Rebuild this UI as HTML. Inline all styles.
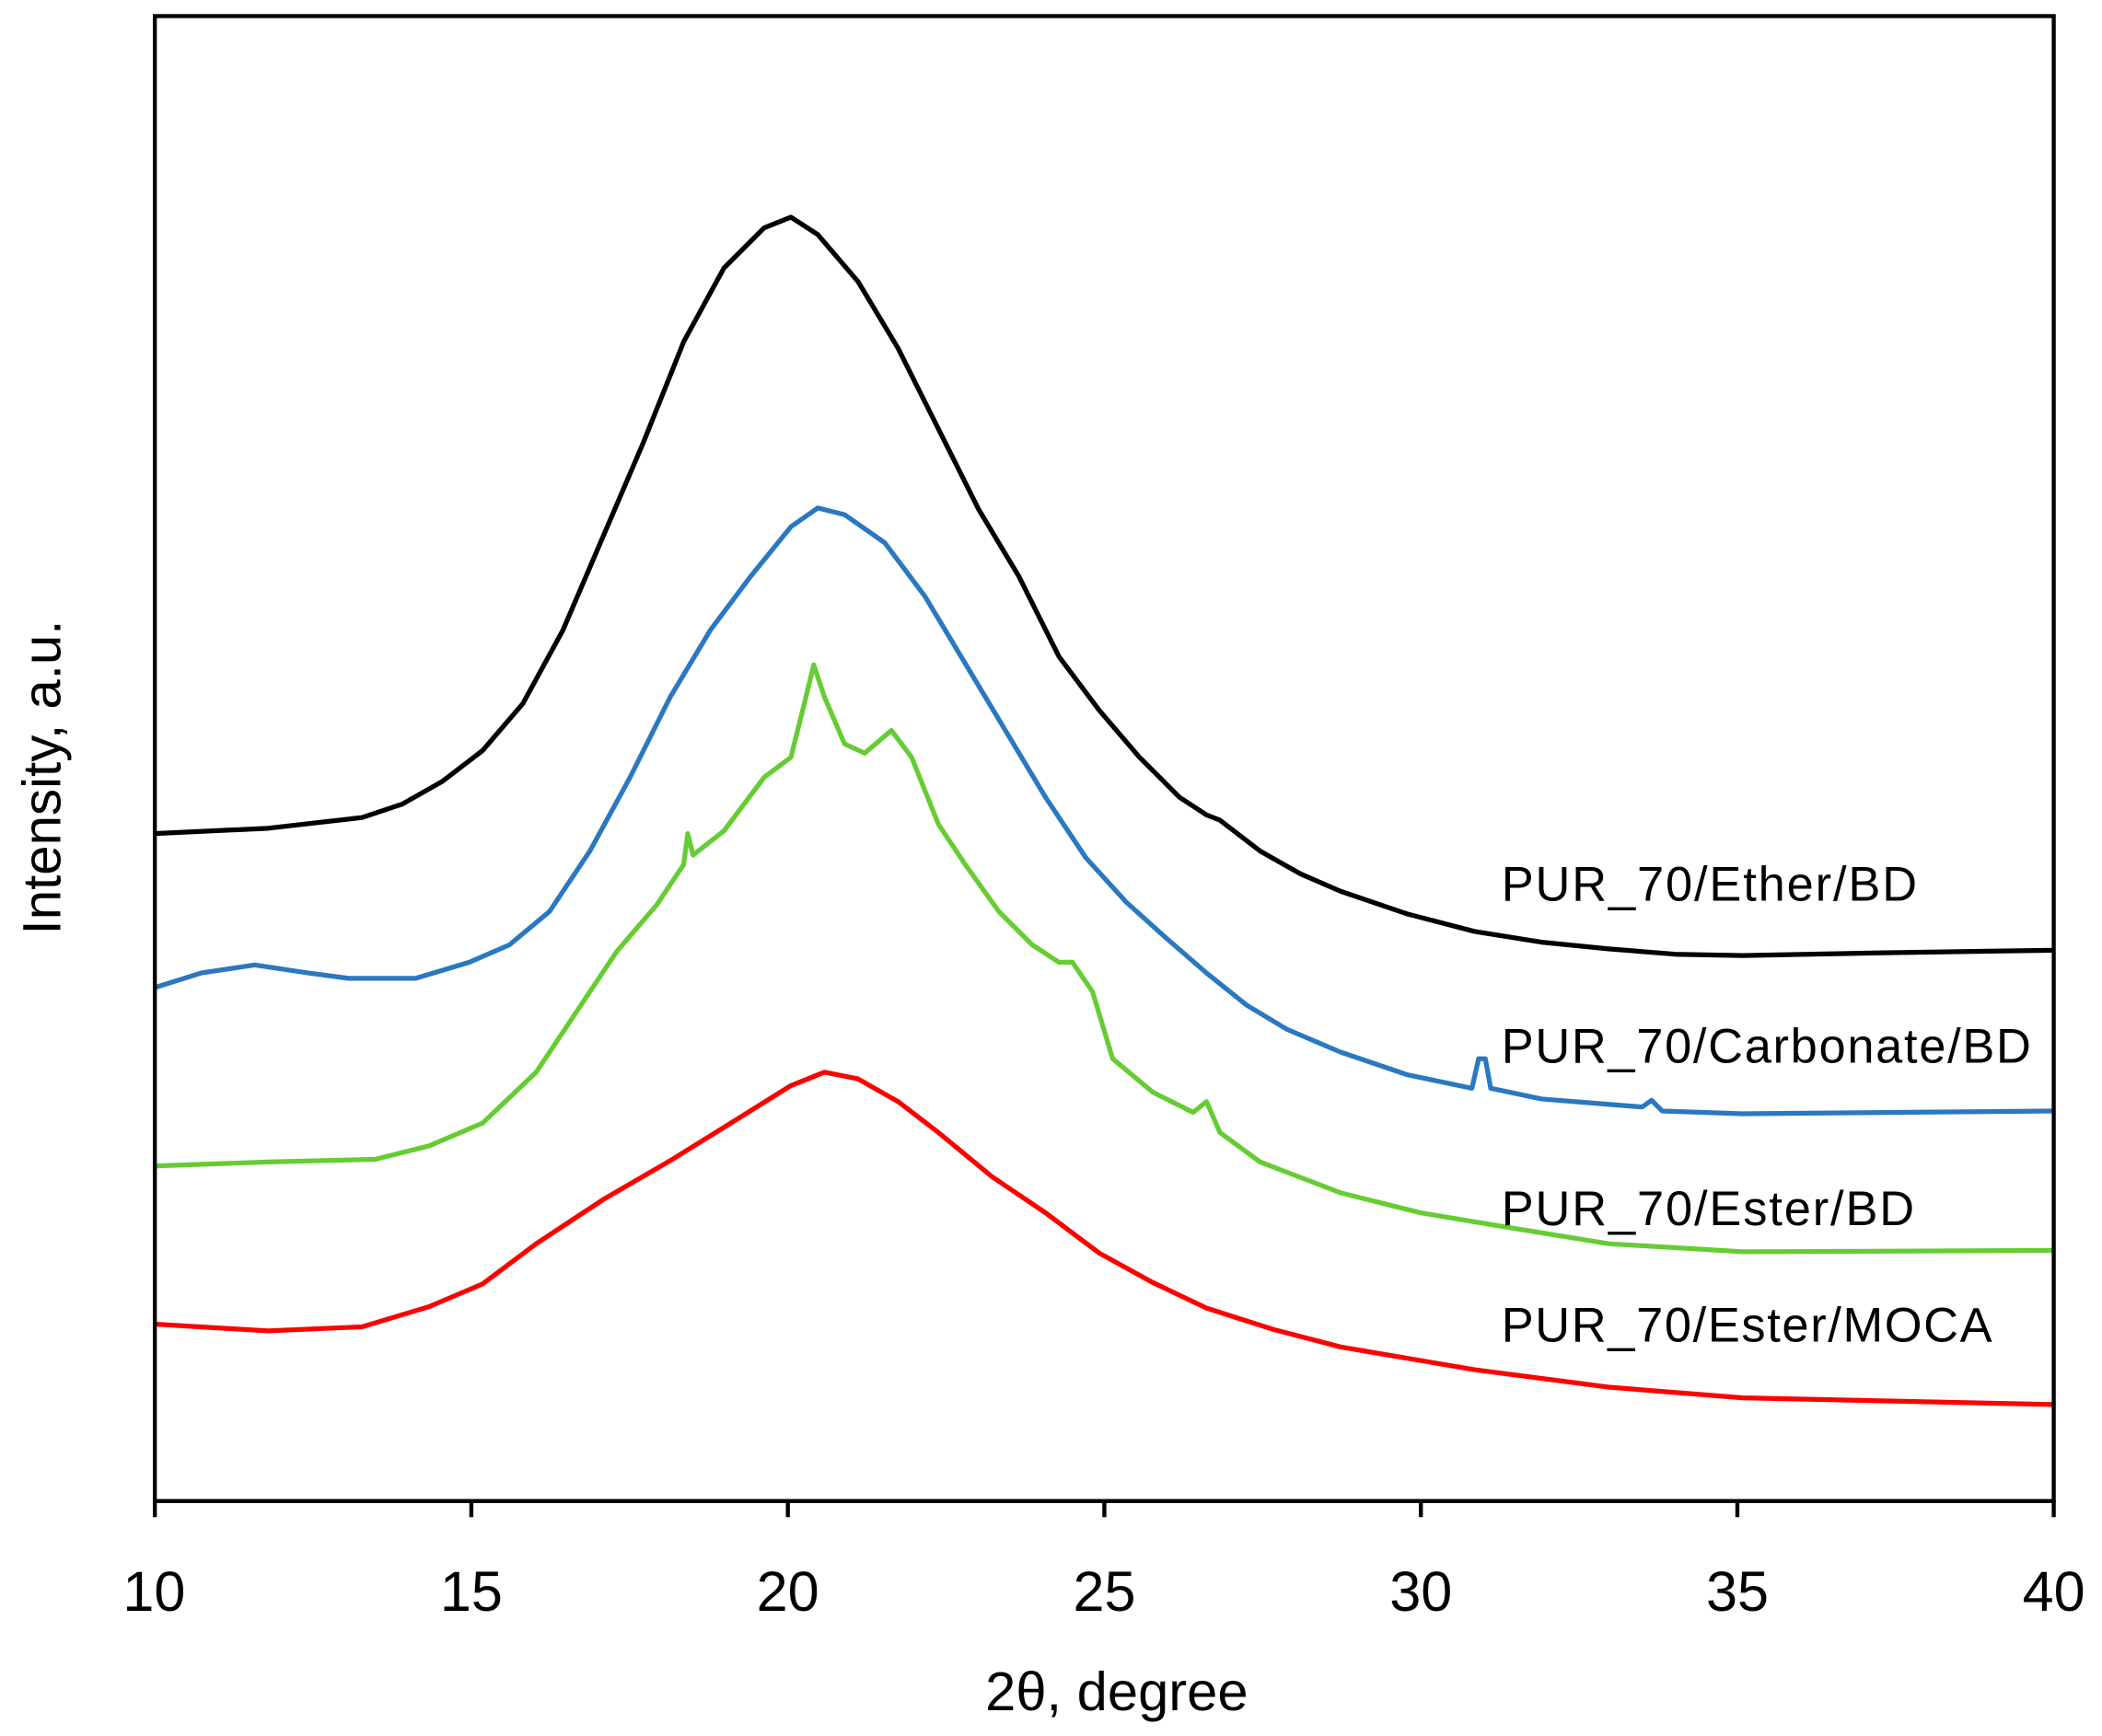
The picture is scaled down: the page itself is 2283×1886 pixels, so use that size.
<!DOCTYPE html>
<html><head><meta charset="utf-8"><style>html,body{margin:0;padding:0;background:#fff}svg{display:block}</style></head>
<body>
<svg width="2283" height="1886" viewBox="0 0 1568 1295.3" xmlns="http://www.w3.org/2000/svg" font-family="Liberation Sans, Arial, sans-serif">
<rect width="1568" height="1296" fill="#fff"/>
<g fill="none" stroke-width="3.6" stroke-linejoin="round">
<polyline stroke="#000" points="115,622 200,618 270,610 300,600 330,583 360,560 390,525 420,470 450,400 480,330 510,255 540,200 570,170 590,162 610,175 640,210 670,260 700,320 730,380 760,430 790,490 820,530 850,565 880,595 900,608 910,612 940,635 970,652 1000,665 1050,682 1100,695 1150,703 1200,708 1250,712 1300,713 1400,711 1532,709"/>
<polyline stroke="#2a78c0" points="115,737 150,726 190,720 230,726 260,730 310,730 350,718 380,705 410,680 440,635 470,580 500,520 530,470 560,430 590,393 610,379 630,384 660,405 690,445 720,495 750,545 780,595 810,640 840,673 870,700 900,726 930,750 960,768 1000,785 1050,802 1098,812 1103,790 1108,790 1112,812 1150,820 1225,826 1232,821 1240,829 1300,831 1532,829"/>
<polyline stroke="#66cc33" points="115,870 200,867 280,865 320,855 360,838 400,800 430,755 460,710 490,675 510,645 513,622 517,638 540,620 570,580 590,565 600,525 607,496 615,520 630,555 645,562 665,545 680,565 700,615 720,645 745,680 770,705 790,718 800,718 815,740 830,790 860,815 890,830 900,822 910,845 940,867 1000,890 1060,905 1120,915 1200,928 1300,934 1532,933"/>
<polyline stroke="#ff0000" points="115,988 200,993 270,990 320,975 360,958 400,928 450,895 500,866 550,835 590,810 615,800 640,805 670,822 700,845 740,878 780,905 820,935 860,957 900,976 950,992 1000,1005 1100,1022 1200,1035 1300,1043 1532,1048"/>
</g>
<g stroke="#000" stroke-width="3" fill="none">
<rect x="115.5" y="12" width="1416.5" height="1108"/>
<path d="M115.5,1120v12M351.6,1120v12M587.7,1120v12M823.8,1120v12M1059.9,1120v12M1296,1120v12M1532,1120v12"/>
</g>
<g font-size="42" text-anchor="middle" fill="#000">
<text x="115" y="1202">10</text><text x="351.6" y="1202">15</text><text x="587.7" y="1202">20</text><text x="823.8" y="1202">25</text><text x="1059.9" y="1202">30</text><text x="1296" y="1202">35</text><text x="1532" y="1202">40</text>
<text x="833" y="1276" font-size="41">2θ, degree</text>
<text transform="translate(45,580) rotate(-90)" font-size="40">Intensity, a.u.</text>
</g>
<g font-size="36" fill="#000">
<text x="1120" y="672" textLength="310">PUR_70/Ether/BD</text>
<text x="1120" y="793" textLength="395">PUR_70/Carbonate/BD</text>
<text x="1120" y="914" textLength="308">PUR_70/Ester/BD</text>
<text x="1120" y="1001" textLength="366">PUR_70/Ester/MOCA</text>
</g>
</svg>
</body></html>
